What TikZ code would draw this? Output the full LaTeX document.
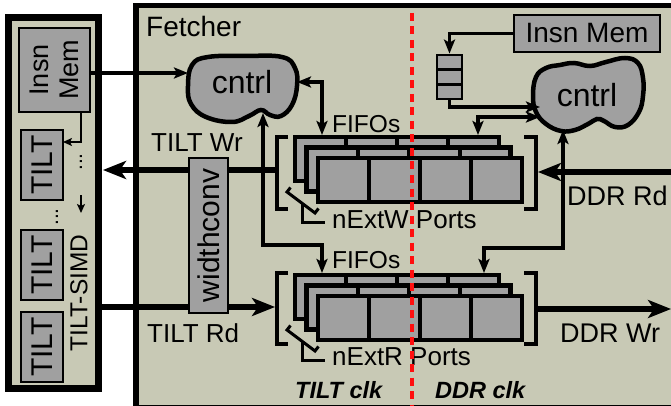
\documentclass[tikz,border=0pt]{standalone}
\usepackage{fontspec}
\setmainfont{Liberation Sans}
\usetikzlibrary{arrows.meta}
\definecolor{khaki}{RGB}{200,201,181}
\definecolor{boxgray}{RGB}{160,160,160}
\definecolor{dashred}{RGB}{255,15,15}
\newcommand\fsz[2]{\fontsize{#1pt}{#2pt}\selectfont}
\begin{document}
\begin{tikzpicture}[x=1pt,y=-1pt,
  graybox/.style={draw=black, fill=boxgray, line width=2.8pt, inner sep=0pt},
  fifol/.style={draw=black, fill=boxgray, line width=4.5pt},
  divl/.style={line width=4pt},
  brk/.style={line width=4.5pt},
  lbl/.style={inner sep=0pt, text=black},
  thickarr/.style={line width=6.5pt, -{Stealth[length=23pt,width=18pt,inset=6pt]}},
  ctl/.style={line width=3.3pt},
  ctlarr/.style={ctl, -{Stealth[length=14pt,width=11pt,inset=3pt]}},
  ctldbl/.style={ctl, {Stealth[length=14pt,width=11pt,inset=3pt]}-{Stealth[length=14pt,width=11pt,inset=3pt]}},
  smallarr/.style={line width=2.3pt, -{Stealth[length=9pt,width=8pt,inset=2pt]}},
  cloudst/.style={draw=black, fill=boxgray, line width=4.5pt},
  swl/.style={line width=3pt}
]
\useasboundingbox (0,0) rectangle (671,406);

% ---------------- left TILT-SIMD box ----------------
\draw[line width=7pt, fill=khaki] (8.5,18) rectangle (98.5,388);
\node[graybox, rotate=90, minimum width=84pt, minimum height=71pt, align=center, font=\fsz{27}{30}] (limem) at (54.5,70) {Insn\\Mem};
\node[graybox, rotate=90, minimum width=70pt, minimum height=42pt, font=\fsz{30}{36}] (t1) at (42,165) {TILT};
\node[graybox, rotate=90, minimum width=70pt, minimum height=42pt, font=\fsz{30}{36}] (t2) at (42,265) {TILT};
\node[graybox, rotate=90, minimum width=70pt, minimum height=42pt, font=\fsz{30}{36}] (t3) at (42,347) {TILT};
\node[lbl, rotate=90, font=\fsz{24.5}{28}] (simd) at (79,293) {TILT-SIMD};
\node[lbl, rotate=90, font=\fsz{21}{24}] (dots1) at (81,162) {...};
\node[lbl, rotate=90, font=\fsz{21}{24}] (dots2) at (57,217) {...};
\coordinate (sa1) at (81,195);
\coordinate (sa2) at (81,213);
\draw[smallarr] (sa1) -- (sa2);
\coordinate (limem-b) at (81,112);
\coordinate (t1-r) at (63,142);
\draw[smallarr] (limem-b) |- (t1-r);

% ---------------- Fetcher ----------------
\draw[line width=5.5pt, fill=khaki] (136,5.5) rectangle (700,408);
\node[lbl, anchor=base west, font=\fsz{28}{30}] (fetch) at (146,37) {Fetcher};

% thick data arrows
\coordinate (upbrk-l) at (277,170);
\coordinate (lbox-r1) at (103,170);
\coordinate (lbox-r2) at (101,307);
\coordinate (lowbrk-l) at (275,307);
\coordinate (ddr-in) at (690,172);
\coordinate (upbrk-r) at (538,172);
\coordinate (lowbrk-r) at (538,309);
\coordinate (ddr-out) at (671,309);
\draw[thickarr] (upbrk-l) -- (lbox-r1);
\draw[thickarr] (lbox-r2) -- (lowbrk-l);
\draw[thickarr] (ddr-in) -- (upbrk-r);
\draw[thickarr] (lowbrk-r) -- (ddr-out);

% widthconv
\node[graybox, line width=2.3pt, rotate=90, minimum width=155pt, minimum height=39pt, font=\fsz{30}{32}] (wconv) at (208.5,235.5) {widthconv};

% FIFO stacks
\foreach \ox/\oy in {295/137, 306.5/147.5, 318/158, 295/275, 306.5/285.5, 318/296} {
  \draw[fifol] (\ox,\oy) rectangle ++(204,44);
  \draw[divl] (\ox+51,\oy) -- ++(0,44);
  \draw[divl] (\ox+102,\oy) -- ++(0,44);
  \draw[divl] (\ox+153,\oy) -- ++(0,44);
}
% brackets
\draw[brk] (288,137) -- (277,137) -- (277,209) -- (288,209);
\draw[brk] (524,137) -- (536,137) -- (536,209) -- (524,209);
\draw[brk] (288,273) -- (277,273) -- (277,344) -- (288,344);
\draw[brk] (524,273) -- (536,273) -- (536,344) -- (524,344);

% port brace symbols
\draw[swl] (290.5,187.5) -- (287,192) -- (315,213) -- (318.5,208.5);
\draw[swl] (302,203.5) -- (302,222) -- (325,222);
\draw[swl] (290.5,325.5) -- (287,330) -- (315,351) -- (318.5,346.5);
\draw[swl] (302,341.5) -- (302,360) -- (325,360);

% right Insn Mem and queue
\node[graybox, minimum width=146pt, minimum height=37pt, font=\fsz{28}{30}] (rimem) at (587,33.5) {Insn Mem};
\node[graybox, minimum width=25pt, minimum height=44pt] (queue) at (449.5,77) {};
\draw[line width=2.8pt] (437,69.7) -- (462,69.7);
\draw[line width=2.8pt] (437,84.3) -- (462,84.3);

% clouds
\draw[cloudst] plot[smooth cycle, tension=0.7] coordinates {(188,86) (192,65) (208,57) (245,56) (282,57) (295,68) (297,86) (292,105) (281,116) (270,115) (261,110) (249,116) (232,122) (206,117) (191,104)};
\draw[cloudst] plot[smooth cycle, tension=0.7] coordinates {(533,96) (536,77) (546,68) (560,65) (574,63) (590,66) (606,62) (625,58) (638,63) (643,78) (643,96) (639,112) (628,125) (615,127) (604,121) (597,119) (588,124) (575,130) (561,131) (546,124) (536,112)};
\node[lbl, anchor=base, font=\fsz{32}{34}] (lctext) at (242,94) {cntrl};
\node[lbl, anchor=base, font=\fsz{32}{34}] (rctext) at (587,107) {cntrl};

% control connectors
\coordinate (limem-r) at (90,73);
\coordinate (lc-l) at (188,73);
\draw[ctlarr] (limem-r) -- (lc-l);
\coordinate (lc-r) at (297,82);
\coordinate (uf-top) at (322,135);
\draw[ctldbl] (lc-r) -| (uf-top);
\coordinate (lc-b) at (263,113);
\coordinate (lc-c) at (263,245);
\coordinate (lf-top) at (322,273);
\draw[ctldbl] (lc-b) -- (lc-c) -| (lf-top);
\coordinate (rc-l1) at (540,107);
\coordinate (rc-l2) at (540,117);
\coordinate (ur-top) at (478,135);
\coordinate (rc-b) at (563,130);
\coordinate (rc-c) at (563,248);
\coordinate (lr-top) at (484,273);
\draw[ctlarr] (rimem.west) -| (queue.north);
\draw[ctlarr] (queue.south) |- (rc-l1);
\draw[ctldbl] (rc-l2) -| (ur-top);
\draw[ctldbl] (rc-b) -- (rc-c) -| (lr-top);

% labels
\node[lbl, anchor=base west, font=\fsz{26}{30}] (tiltwr) at (151,152) {TILT Wr};
\node[lbl, anchor=base west, font=\fsz{26}{30}] (tiltrd) at (147,342) {TILT Rd};
\node[lbl, anchor=base west, font=\fsz{24.5}{28}] (fifo1) at (332,133) {FIFOs};
\node[lbl, anchor=base west, font=\fsz{24.5}{28}] (fifo2) at (332,268) {FIFOs};
\node[lbl, anchor=base west, font=\fsz{26}{30}] (nextw) at (332,228) {nExtW Ports};
\node[lbl, anchor=base west, font=\fsz{26}{30}] (nextr) at (332,365) {nExtR Ports};
\node[lbl, anchor=base west, font=\fsz{27}{30}] (ddrrd) at (567,205) {DDR Rd};
\node[lbl, anchor=base west, font=\fsz{27}{30}] (ddrwr) at (560,342) {DDR Wr};
\node[lbl, anchor=base west, font=\fsz{23.5}{28}\bfseries\itshape] (tclk) at (295,398) {TILT clk};
\node[lbl, anchor=base west, font=\fsz{23.5}{28}\bfseries\itshape] (dclk) at (435,398) {DDR clk};

% clock-domain boundary
\coordinate (clk-top) at (412,13);
\coordinate (clk-bot) at (412,406);
\draw[dashred, line width=3.5pt, dash pattern=on 8pt off 5.5pt] (clk-top) -- (clk-bot);
\end{tikzpicture}
\end{document}
